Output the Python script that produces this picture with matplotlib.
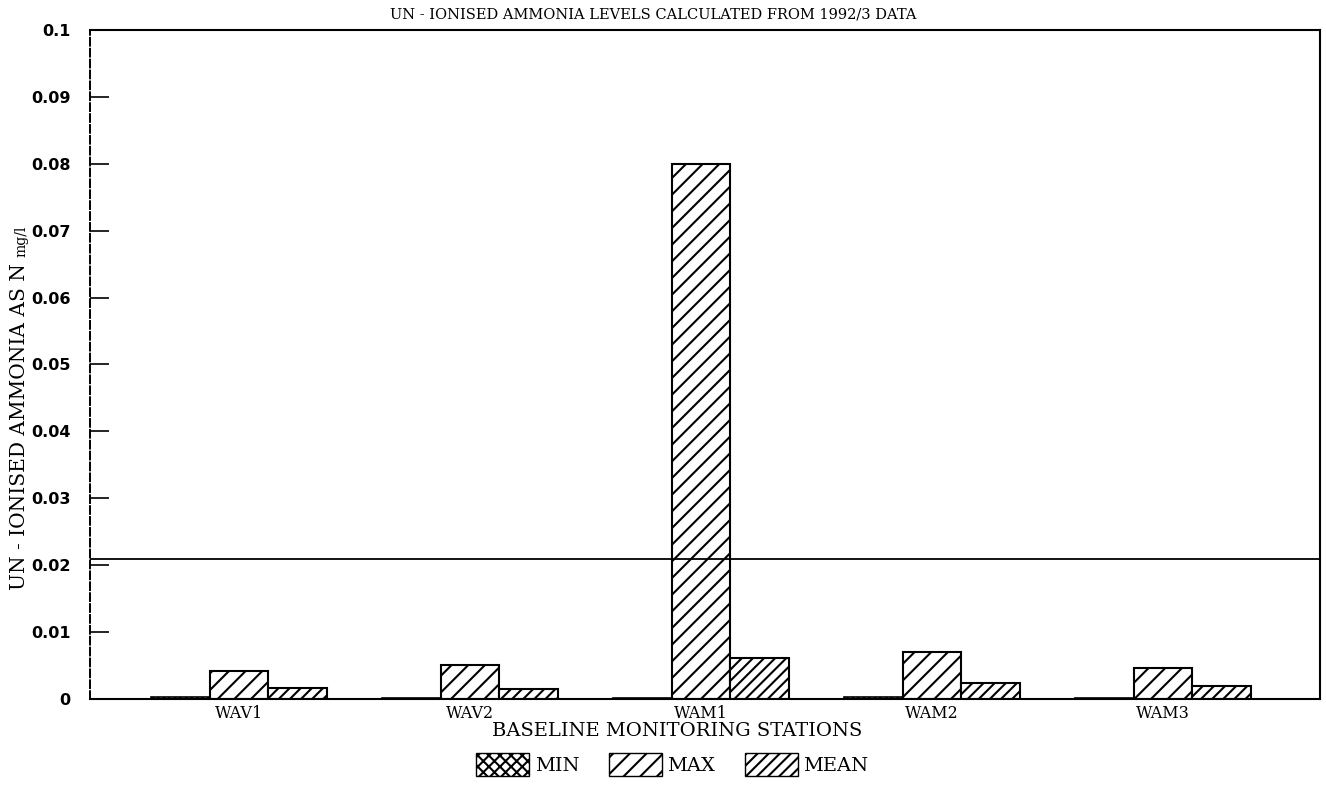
import numpy as np
import matplotlib
matplotlib.use("Agg")
import matplotlib.pyplot as plt
from matplotlib.patches import Patch

stations = ["WAV1", "WAV2", "WAM1", "WAM2", "WAM3"]
min_vals = [0.0003, 0.0002, 0.0001, 0.0003, 0.0001]
max_vals = [0.0042, 0.0051, 0.0800, 0.0070, 0.0046]
mean_vals = [0.0016, 0.0015, 0.0061, 0.0024, 0.0020]
standard_level = 0.021
y_ticks = [0, 0.01, 0.02, 0.03, 0.04, 0.05, 0.06, 0.07, 0.08, 0.09, 0.1]
y_tick_labels = ["0", "0.01", "0.02", "0.03", "0.04", "0.05", "0.06", "0.07", "0.08", "0.09", "0.1"]

plt.rcParams["hatch.linewidth"] = 1.5
serif = "DejaVu Serif"

fig = plt.figure(figsize=(13.26, 7.88), dpi=100)
ax = fig.add_axes([0.0679, 0.1129, 0.9276, 0.8491])

x = np.arange(len(stations))
w = 0.255
ax.bar(x - w, min_vals, w, color="white", edgecolor="black", hatch="xxx", linewidth=1.2)
ax.bar(x, max_vals, w, color="white", edgecolor="black", hatch="//", linewidth=1.5)
ax.bar(x + w, mean_vals, w, color="white", edgecolor="black", hatch="///", linewidth=1.5)

ax.axhline(standard_level, color="black", linewidth=1.3)

ax.set_xlim(-0.645, 4.68)
ax.set_ylim(0, 0.1)
ax.set_yticks(y_ticks)
ax.set_yticklabels(y_tick_labels, fontfamily="DejaVu Sans", fontweight="bold", fontsize=11.5)
ax.tick_params(axis="y", direction="in", length=14, width=1.2, pad=14)
ax.set_xticks(x)
ax.set_xticklabels(stations, fontfamily=serif, fontsize=11.5)
ax.tick_params(axis="x", length=0, pad=4)

for s in ["top", "right", "bottom"]:
    ax.spines[s].set_linewidth(1.5)
ax.spines["left"].set_linestyle((0, (4, 1.6)))
ax.spines["left"].set_linewidth(1.4)

fig.text(0.4925, 0.981, "UN - IONISED AMMONIA LEVELS CALCULATED FROM 1992/3 DATA",
         ha="center", va="center", fontfamily=serif, fontsize=10.5)

# y-axis title: main part plus a smaller unit, set end to end
ylab_main = fig.text(0.0145, 1 - 590 / 788, "UN - IONISED AMMONIA AS N ", rotation=90,
                     ha="center", va="bottom", fontfamily=serif, fontsize=14.5)
fig.canvas.draw()
bb = ylab_main.get_window_extent(fig.canvas.get_renderer())
fig.text(0.0165, bb.y1 / fig.bbox.height, "mg/l", rotation=90,
         ha="center", va="bottom", fontfamily=serif, fontsize=10)

fig.text(0.5106, 0.0723, "BASELINE MONITORING STATIONS", ha="center", va="center",
         fontfamily=serif, fontsize=14)

handles = [
    Patch(facecolor="white", edgecolor="black", hatch="xxx", label="MIN"),
    Patch(facecolor="white", edgecolor="black", hatch="//", label="MAX"),
    Patch(facecolor="white", edgecolor="black", hatch="///", label="MEAN"),
]
fig.legend(handles=handles, loc="center", bbox_to_anchor=(0.507, 0.030), ncol=3,
           frameon=False, prop={"family": serif, "size": 14},
           handlelength=2.73, handleheight=1.44, columnspacing=1.5, handletextpad=0.3,
           borderpad=0.1)

fig.savefig("out.png", dpi=100)
